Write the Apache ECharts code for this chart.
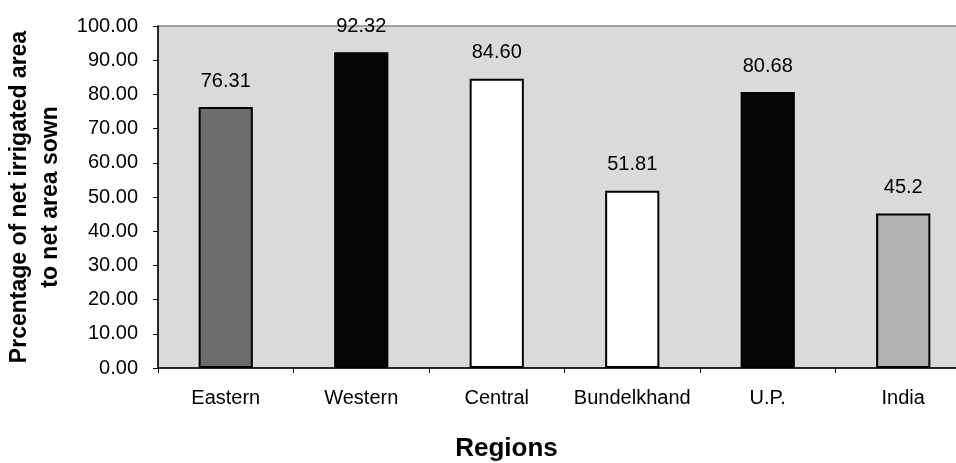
<!DOCTYPE html>
<html>
<head>
<meta charset="utf-8">
<script src="https://cdn.jsdelivr.net/npm/echarts@6/dist/echarts.min.js"></script>
<style>
  html, body { margin: 0; padding: 0; background: #ffffff; }
  #chart { width: 956px; height: 463px; }
</style>
</head>
<body>
<div id="chart"></div>
<script>
// Regions of Uttar Pradesh compared with the all-India figure
const regions = ['Eastern', 'Western', 'Central', 'Bundelkhand', 'U.P.', 'India'];
// Net irrigated area as a percentage of net area sown, as printed above each bar
const valueText = ['76.31', '92.32', '84.60', '51.81', '80.68', '45.2'];
const values = valueText.map(Number);
// Value-axis ticks
const yTicks = [0, 10, 20, 30, 40, 50, 60, 70, 80, 90, 100];

// Bar fills, one per region
const barFills = ['#6d6d6d', '#050505', '#ffffff', '#ffffff', '#050505', '#b2b2b2'];

const FONT = '"Liberation Sans", Arial, sans-serif';

const chart = echarts.init(document.getElementById('chart'), null, { renderer: 'canvas' });

chart.setOption({
  animation: false,
  backgroundColor: '#ffffff',
  grid: {
    left: 158,
    right: -15,
    top: 26,
    bottom: 95,
    outerBoundsMode: 'none',
    containLabel: false,
    show: true,
    backgroundColor: '#dadada',
    borderColor: '#555555',
    borderWidth: 1
  },
  xAxis: {
    type: 'category',
    data: regions,
    name: 'Regions',
    nameLocation: 'middle',
    nameGap: 68,
    nameTextStyle: {
      fontFamily: FONT,
      fontSize: 26,
      fontWeight: 'bold',
      color: '#000',
      padding: [0, 116, 0, 0]
    },
    axisLine: { show: true, lineStyle: { color: '#000', width: 1.5 } },
    axisTick: { show: true, alignWithLabel: false, length: 5, lineStyle: { color: '#000' } },
    axisLabel: {
      interval: 0,
      fontFamily: FONT,
      fontSize: 20,
      color: '#000',
      margin: 20
    },
    splitLine: { show: false }
  },
  yAxis: {
    type: 'value',
    min: yTicks[0],
    max: yTicks[yTicks.length - 1],
    interval: yTicks[1] - yTicks[0],
    name: 'Prcentage of net irrigated area\nto net area sown',
    nameLocation: 'middle',
    nameGap: 87,
    nameTextStyle: {
      fontFamily: FONT,
      fontSize: 23,
      fontWeight: 'bold',
      color: '#000',
      lineHeight: 31
    },
    axisLine: { show: true, lineStyle: { color: '#000', width: 1.5 } },
    axisTick: { show: true, length: 5, lineStyle: { color: '#000' } },
    axisLabel: {
      fontFamily: FONT,
      fontSize: 20,
      color: '#000',
      margin: 20,
      formatter: v => v.toFixed(2)
    },
    splitLine: { show: false }
  },
  series: [{
    type: 'bar',
    barWidth: '40%',
    data: values.map((v, i) => ({
      value: v,
      itemStyle: {
        color: barFills[i],
        borderColor: '#000',
        borderWidth: 2
      }
    })),
    label: {
      show: true,
      position: 'top',
      distance: 16,
      fontFamily: FONT,
      fontSize: 20,
      color: '#000',
      formatter: p => valueText[p.dataIndex]
    }
  }]
});
</script>
</body>
</html>
